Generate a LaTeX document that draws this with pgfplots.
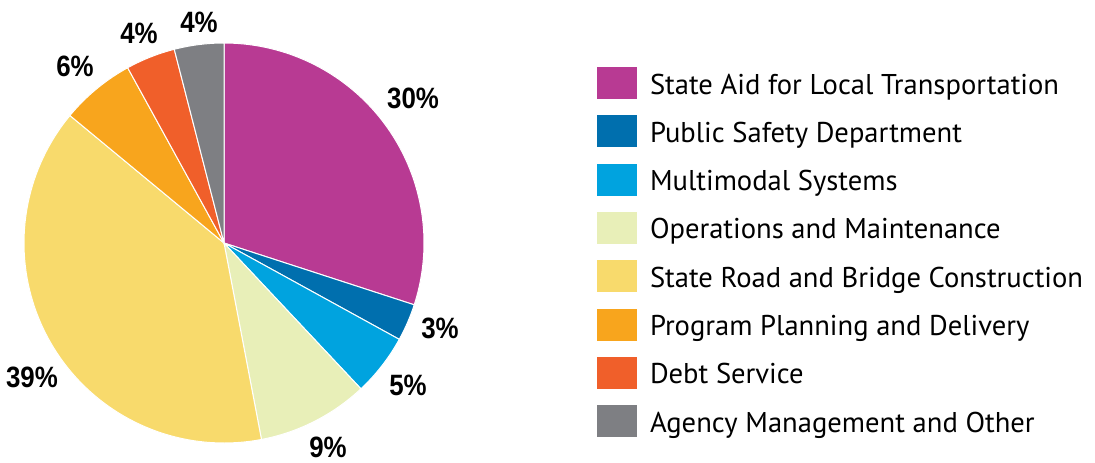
\documentclass[border=0pt]{standalone}
\usepackage{pgfplots}
\pgfplotsset{compat=1.18}
\usepackage{fontspec}
\setmainfont{PT Sans}
\newfontfamily\labfont{Liberation Sans}
\definecolor{cPurple}{HTML}{B83A93}
\definecolor{cDBlue}{HTML}{006FAE}
\definecolor{cLBlue}{HTML}{00A3DF}
\definecolor{cLGreen}{HTML}{E8EFB8}
\definecolor{cYellow}{HTML}{F8DA6C}
\definecolor{cOrange}{HTML}{F8A51D}
\definecolor{cRed}{HTML}{F05F2A}
\definecolor{cGray}{HTML}{7E7F83}
% slice: start percent, end percent (cumulative), colour
\newcommand{\slice}[3]{%
  \addplot[fill=#3, draw=white, line width=0.5pt, domain={#1*3.6}:{#2*3.6}, samples=80]
    ({224+200*sin(x)},{219+200*cos(x)}) -- (axis cs:224,219) -- cycle;}
\newcommand{\pct}[1]{\scalebox{0.88}[1]{\labfont\bfseries #1}}
\begin{document}
\begin{tikzpicture}
\begin{axis}[
  x=0.5pt, y=0.5pt,
  xmin=0, xmax=1095, ymin=0, ymax=462,
  hide axis, clip=false,
  legend cell align=left,
  legend image code/.code={\fill[#1, draw=none] (0pt,-8pt) rectangle (20pt,8pt);},
  legend style={draw=none, fill=none, inner sep=0pt, outer sep=0pt,
    at={(axis cs:597,395)}, anchor=north west,
    row sep=8.15pt, column sep=6.5pt,
    font=\fontsize{14.3pt}{16pt}\selectfont,
    nodes={inner sep=0pt, text height=13.5pt, text depth=2.5pt}},
]
\path (axis cs:0,0) rectangle (axis cs:1095,462);
% percentages: 30, 3, 5, 9, 39, 6, 4, 4 (cumulative 0,30,33,38,47,86,92,96,100)
\slice{0}{30}{cPurple}   \addlegendentry{State Aid for Local Transportation}
\slice{30}{33}{cDBlue}   \addlegendentry{Public Safety Department}
\slice{33}{38}{cLBlue}   \addlegendentry{Multimodal Systems}
\slice{38}{47}{cLGreen}  \addlegendentry{Operations and Maintenance}
\slice{47}{86}{cYellow}  \addlegendentry{State Road and Bridge Construction}
\slice{86}{92}{cOrange}  \addlegendentry{Program Planning and Delivery}
\slice{92}{96}{cRed}     \addlegendentry{Debt Service}
\slice{96}{100}{cGray}   \addlegendentry{Agency Management and Other}
\begin{scope}[every node/.style={font=\fontsize{14.7pt}{16pt}\selectfont, inner sep=0pt}]
\node at (axis cs:413,364) {\pct{30\%}};
\node at (axis cs:440,134) {\pct{3\%}};
\node at (axis cs:408,77) {\pct{5\%}};
\node at (axis cs:328,15) {\pct{9\%}};
\node at (axis cs:32,85) {\pct{39\%}};
\node at (axis cs:75,396) {\pct{6\%}};
\node at (axis cs:139,429) {\pct{4\%}};
\node at (axis cs:199,440) {\pct{4\%}};
\end{scope}
\end{axis}
\end{tikzpicture}
\end{document}
